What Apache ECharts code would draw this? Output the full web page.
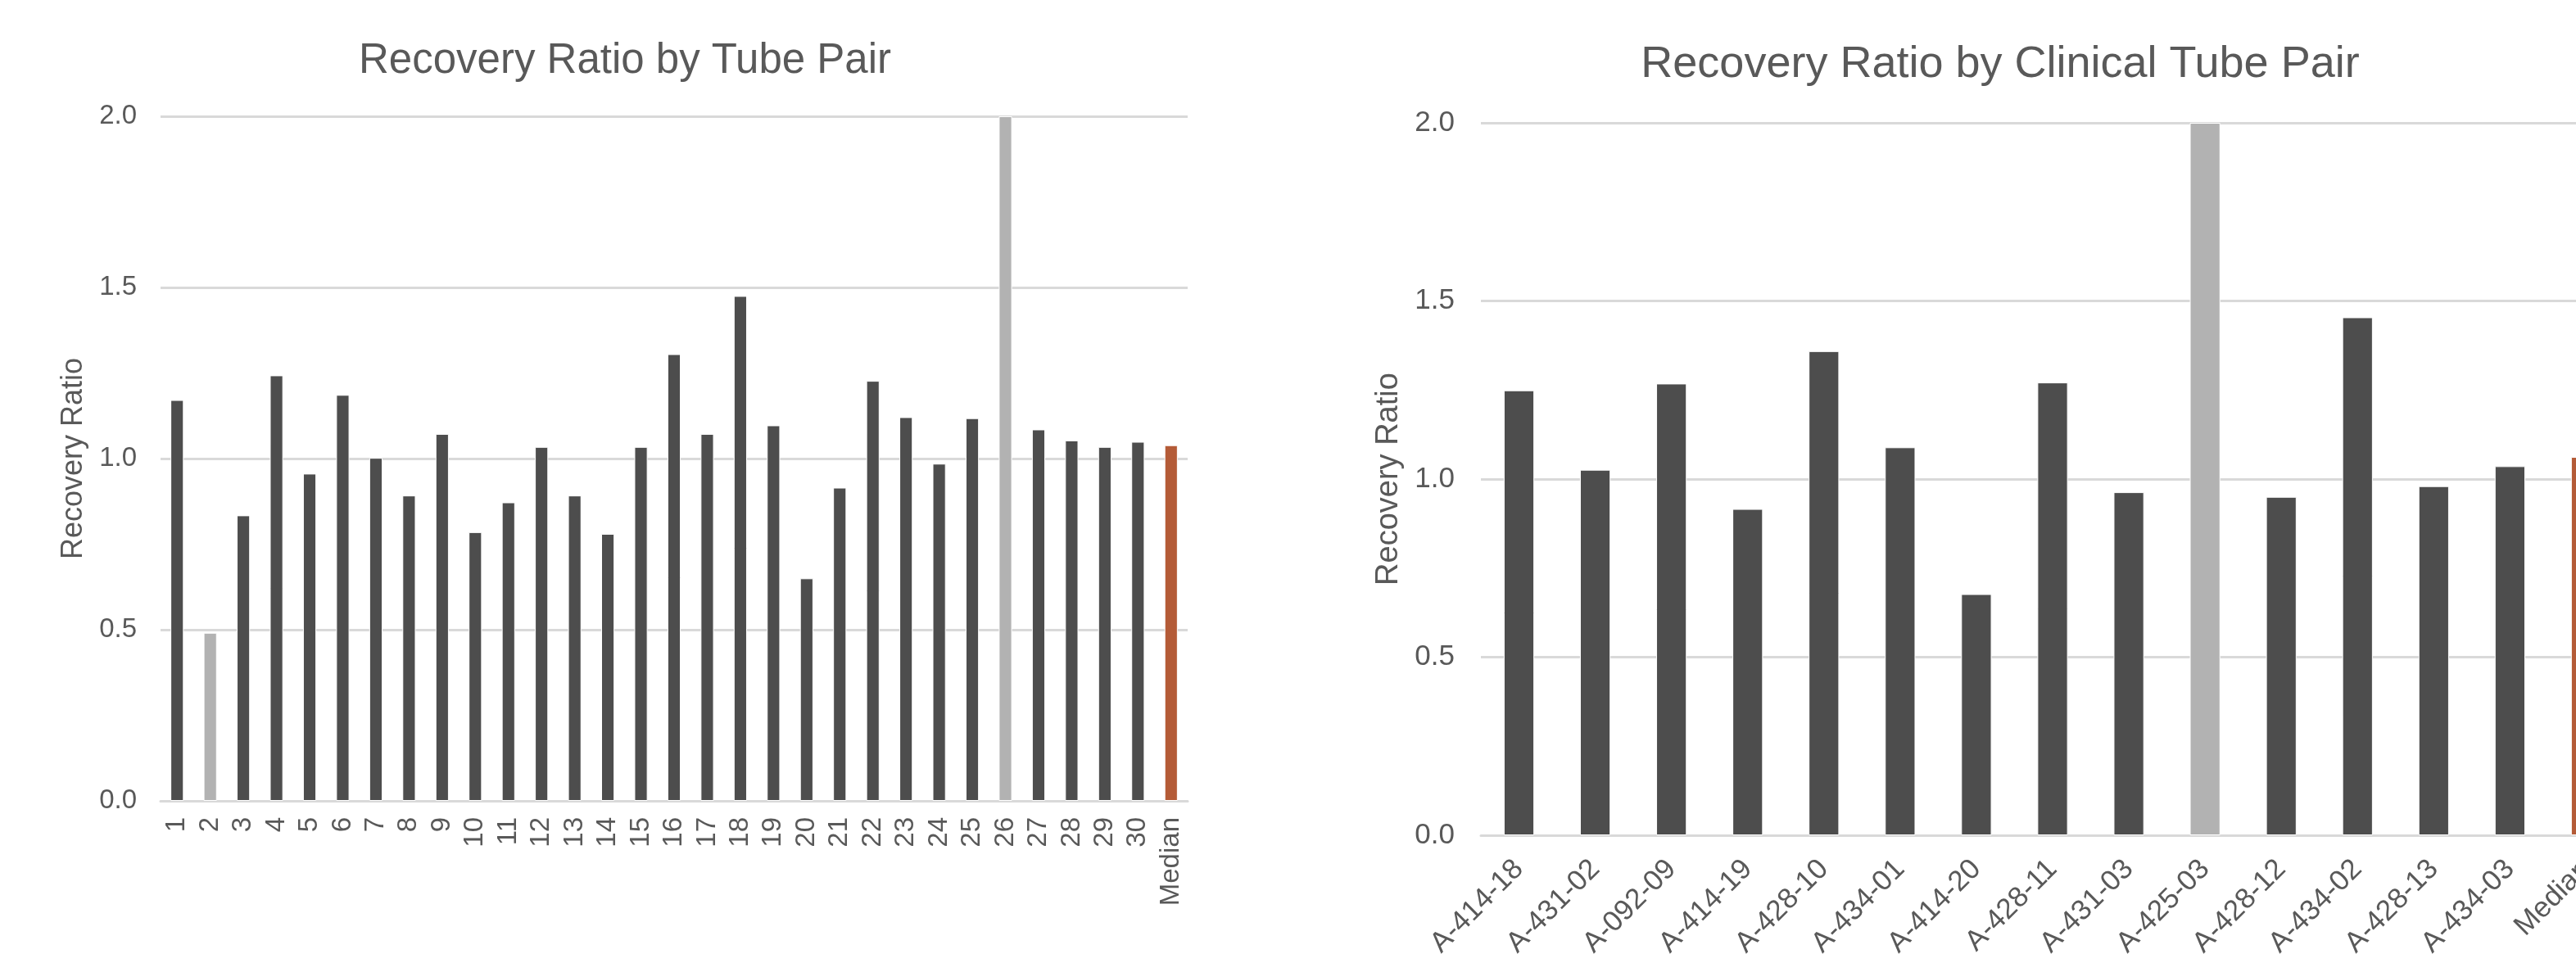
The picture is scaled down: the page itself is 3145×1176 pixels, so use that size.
<!DOCTYPE html>
<html>
<head>
<meta charset="utf-8">
<script src="https://cdn.jsdelivr.net/npm/echarts@6/dist/echarts.min.js"></script>
<style>
html,body{margin:0;padding:0;background:#fff;}
#chart{width:3145px;height:1176px;}
</style>
</head>
<body>
<div id="chart"></div>
<script>
// ---- data ----
const leftTitle = 'Recovery Ratio by Tube Pair';
const rightTitle = 'Recovery Ratio by Clinical Tube Pair';
const yAxisName = 'Recovery Ratio';
const yTicks = [0, 0.5, 1.0, 1.5, 2.0];

const leftCategories = ['1','2','3','4','5','6','7','8','9','10','11','12','13','14','15','16','17','18','19','20','21','22','23','24','25','26','27','28','29','30','Median'];
const leftValues = [1.171, 0.491, 0.834, 1.243, 0.956, 1.186, 1.002, 0.892, 1.072, 0.785, 0.872, 1.034, 0.892, 0.780, 1.034, 1.305, 1.072, 1.475, 1.097, 0.650, 0.915, 1.227, 1.121, 0.985, 1.118, 2.0, 1.085, 1.053, 1.034, 1.049, 1.039];
const leftExcluded = ['2', '26'];

const rightCategories = ['A-414-18','A-431-02','A-092-09','A-414-19','A-428-10','A-434-01','A-414-20','A-428-11','A-431-03','A-425-03','A-428-12','A-434-02','A-428-13','A-434-03','Median'];
const rightValues = [1.249, 1.026, 1.268, 0.916, 1.359, 1.089, 0.677, 1.271, 0.963, 2.0, 0.950, 1.454, 0.980, 1.036, 1.062];
const rightExcluded = ['A-425-03'];

const medianLabel = 'Median';

// ---- styles ----
const FONT = '"Liberation Sans", Arial, Helvetica, sans-serif';
const TXT = '#595959';
const GRID = '#d9d9d9';
const C_NORMAL = '#4d4d4d';
const C_EXCL = '#b2b2b2';
const C_MED = '#b45b37';

function barColor(cat, excluded) {
  if (cat === medianLabel) return C_MED;
  if (excluded.indexOf(cat) >= 0) return C_EXCL;
  return C_NORMAL;
}

function buildData(cats, vals, excluded) {
  return vals.map((v, i) => ({ value: v, itemStyle: { color: barColor(cats[i], excluded) } }));
}

function yAxisFor(gridIndex, fontSize, nameSize, nameGap, margin) {
  return {
    type: 'value', gridIndex: gridIndex, min: yTicks[0], max: yTicks[yTicks.length - 1], interval: yTicks[1] - yTicks[0],
    name: yAxisName, nameLocation: 'middle', nameGap: nameGap,
    nameTextStyle: { color: TXT, fontSize: nameSize, fontFamily: FONT },
    axisLine: { show: false }, axisTick: { show: false },
    axisLabel: { color: TXT, fontSize: fontSize, fontFamily: FONT, margin: margin, formatter: v => v.toFixed(1) },
    splitLine: { show: true, lineStyle: { color: GRID, width: 3 } }
  };
}

const chart = echarts.init(document.getElementById('chart'), null, { renderer: 'canvas' });
chart.setOption({
  backgroundColor: '#ffffff',
  animation: false,
  title: [
    { text: leftTitle, left: 758, top: 44, textAlign: 'center',
      textStyle: { color: TXT, fontSize: 51, fontWeight: 'normal', fontFamily: FONT } },
    { text: rightTitle, left: 2437, top: 47, textAlign: 'center',
      textStyle: { color: TXT, fontSize: 54, fontWeight: 'normal', fontFamily: FONT } }
  ],
  grid: [
    { left: 196, top: 142, width: 1254, height: 836, containLabel: false, outerBoundsMode: 'none' },
    { left: 1808, top: 150, width: 1396, height: 870, containLabel: false, outerBoundsMode: 'none' }
  ],
  xAxis: [
    { type: 'category', gridIndex: 0, data: leftCategories,
      axisLine: { show: true, lineStyle: { color: GRID, width: 3 } }, axisTick: { show: false },
      axisLabel: { interval: 0, rotate: 90, margin: 20, color: TXT, fontSize: 33, fontFamily: FONT } },
    { type: 'category', gridIndex: 1, data: rightCategories,
      axisLine: { show: true, lineStyle: { color: GRID, width: 3 } }, axisTick: { show: false },
      axisLabel: { interval: 0, rotate: 45, margin: 36, color: TXT, fontSize: 35, fontFamily: FONT } }
  ],
  yAxis: [
    yAxisFor(0, 33, 36, 88, 29),
    yAxisFor(1, 35, 38, 93, 32)
  ],
  series: [
    { type: 'bar', xAxisIndex: 0, yAxisIndex: 0, barWidth: '40%',
      data: buildData(leftCategories, leftValues, leftExcluded),
      itemStyle: { borderColor: '#ffffff', borderWidth: 1 } },
    { type: 'bar', xAxisIndex: 1, yAxisIndex: 1, barWidth: '40%',
      data: buildData(rightCategories, rightValues, rightExcluded),
      itemStyle: { borderColor: '#ffffff', borderWidth: 1 } }
  ]
});
</script>
</body>
</html>
